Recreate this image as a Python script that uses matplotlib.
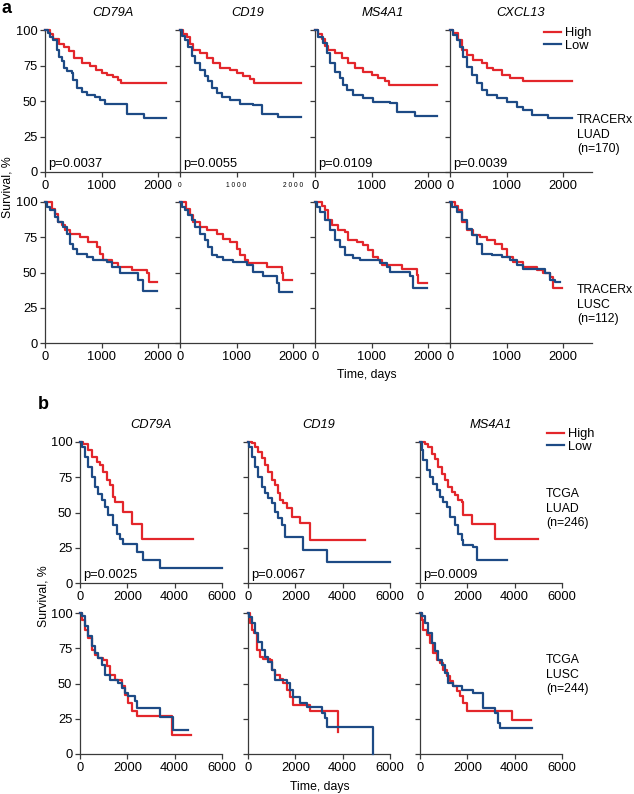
import matplotlib
matplotlib.use('Agg')
import matplotlib.pyplot as plt

plt.rcParams['font.family'] = ['Liberation Sans', 'DejaVu Sans']
plt.rcParams['font.size'] = 9

# ---------------- DATA ----------------
genes_a = ['CD79A', 'CD19', 'MS4A1', 'CXCL13']
genes_b = ['CD79A', 'CD19', 'MS4A1']
pvals_a = ['p=0.0037', 'p=0.0055', 'p=0.0109', 'p=0.0039']
pvals_b = ['p=0.0025', 'p=0.0067', 'p=0.0009']
ticks_a_x = [0, 1000, 2000]
ticks_a_x_spaced = ['0', '1 0 0 0', '2 0 0 0']
ticks_b_x = [0, 2000, 4000, 6000]
ticks_y = [0, 25, 50, 75, 100]
legend_labels = ['High', 'Low']
row_labels_a = ['TRACERx\nLUAD\n(n=170)', 'TRACERx\nLUSC\n(n=112)']
row_labels_b = ['TCGA\nLUAD\n(n=246)', 'TCGA\nLUSC\n(n=244)']

# TRACERx LUAD (panel a, top row)
a1_high_t = [0, 90, 150, 240, 330, 420, 520, 650, 800, 910, 1000, 1100, 1210, 1300, 1340, 2150]
a1_high_s = [100, 97, 94, 90, 88, 85, 80, 77, 75, 72, 70, 68, 67, 65, 62.5, 62.5]
a1_low_t = [0, 60, 90, 150, 210, 240, 300, 330, 390, 470, 500, 560, 650, 740, 890, 980, 1060, 1450, 1750, 2150]
a1_low_s = [100, 97.7, 95, 93, 86, 81, 78, 73, 71, 69.5, 65, 59, 56.5, 54, 52.5, 51, 48, 40.6, 37.8, 37.8]
a2_high_t = [0, 59, 118, 177, 236, 354, 472, 590, 708, 885, 1003, 1121, 1239, 1310, 2142]
a2_high_s = [100, 97, 95, 90, 86, 83.5, 80, 76.5, 73, 72, 69.5, 67.6, 65.7, 62.4, 62.4]
a2_low_t = [0, 29, 88, 147, 206, 265, 354, 442, 501, 560, 649, 737, 885, 1062, 1298, 1445, 1740, 2142]
a2_low_s = [100, 96, 93, 88, 82, 76.5, 72, 67.6, 64, 59, 55.6, 53, 51, 48, 47, 41, 38.5, 38.5]
a3_high_t = [0, 59, 118, 177, 236, 354, 472, 590, 708, 855, 1003, 1121, 1239, 1316, 2153]
a3_high_s = [100, 97, 94, 89, 86, 83.5, 80, 76.5, 73, 70.7, 68.3, 66, 64, 61.3, 61.3]
a3_low_t = [0, 59, 147, 206, 265, 354, 442, 501, 560, 678, 855, 1032, 1327, 1445, 1770, 2153]
a3_low_s = [100, 95.3, 90.6, 84, 76.5, 70.7, 66, 61.3, 57.7, 54, 51.9, 49.5, 48.4, 42.5, 39.4, 39.4]
a4_high_t = [0, 59, 147, 206, 295, 413, 560, 649, 767, 914, 1062, 1298, 2153]
a4_high_s = [100, 97.7, 93, 86, 82.6, 79, 76.5, 73, 71.8, 68.3, 66, 64.3, 64.3]
a4_low_t = [0, 59, 118, 177, 236, 295, 383, 472, 560, 649, 826, 1003, 1180, 1298, 1445, 1740, 2153]
a4_low_s = [100, 96.5, 93, 88.3, 81.2, 74, 68, 62.4, 57.7, 54.2, 51.9, 49.5, 46, 43.7, 40, 37.8, 37.8]

# TRACERx LUSC (panel a, bottom row)
a5_high_t = [0, 118, 177, 236, 295, 354, 442, 619, 767, 914, 973, 1032, 1180, 1298, 1534, 1799, 1841, 1988]
a5_high_s = [100, 95.3, 91.7, 85.8, 83.5, 80, 77.6, 75.2, 71.7, 68.2, 63.4, 59.2, 56.4, 54, 51.7, 49.3, 43.4, 43.4]
a5_low_t = [0, 29, 88, 177, 236, 324, 383, 442, 501, 560, 737, 855, 1091, 1180, 1327, 1652, 1740, 1988]
a5_low_s = [100, 96.5, 94.1, 89.4, 85.8, 82.3, 77.6, 70.5, 67, 63.4, 61.1, 59.2, 57.5, 54, 49.3, 44.6, 36.8, 36.8]
a6_high_t = [0, 100, 177, 236, 354, 472, 649, 767, 885, 1003, 1062, 1150, 1209, 1534, 1799, 1829, 1976]
a6_high_s = [100, 95.3, 90.6, 85.8, 82.3, 80, 77.6, 74, 71.7, 67, 62.3, 58.7, 56.4, 54, 49.3, 44.6, 44.6]
a6_low_t = [0, 29, 88, 147, 206, 265, 354, 442, 501, 560, 649, 767, 944, 1180, 1298, 1475, 1711, 1758, 1976]
a6_low_s = [100, 96.5, 94.1, 90.6, 87, 82.3, 77.6, 72.9, 68.2, 62.3, 61.1, 59.2, 57.5, 55.2, 50.5, 47.4, 42.2, 36.3, 36.3]
a7_high_t = [0, 118, 177, 236, 295, 413, 531, 590, 737, 855, 944, 1032, 1121, 1180, 1534, 1799, 1829, 1976]
a7_high_s = [100, 97, 94.1, 87, 83.5, 80, 78.8, 72.9, 71.7, 69.3, 65.8, 61.1, 58.7, 55.2, 52.8, 48.1, 42.7, 42.7]
a7_low_t = [0, 29, 88, 177, 265, 354, 442, 531, 678, 796, 1150, 1268, 1327, 1681, 1740, 1976]
a7_low_s = [100, 96.5, 92.9, 87, 80, 72.9, 68.2, 62.3, 60.6, 58.7, 56.4, 54, 50.5, 47.4, 38.7, 38.7]
a8_high_t = [0, 88, 147, 206, 295, 413, 531, 649, 796, 914, 1003, 1121, 1298, 1534, 1652, 1770, 1829, 1976]
a8_high_s = [100, 97, 94.1, 85.8, 80, 76.4, 75.2, 72.9, 70.5, 67, 61.1, 57.5, 54, 51.7, 49.3, 47, 38.7, 38.7]
a8_low_t = [0, 29, 118, 206, 295, 383, 472, 560, 737, 914, 1062, 1180, 1298, 1681, 1770, 1858, 1947]
a8_low_s = [100, 96.5, 92.9, 87, 81.1, 76.4, 70.5, 63.4, 62.3, 61.1, 58.7, 55.2, 52.8, 49.3, 44.6, 43.4, 43.4]

# TCGA LUAD (panel b, top row)
b1_high_t = [0, 141, 352, 493, 704, 845, 986, 1127, 1268, 1408, 1479, 1831, 2183, 2606, 4761]
b1_high_s = [100, 98.8, 94.1, 89.4, 85.8, 83.5, 78.7, 72.8, 69.3, 61, 57.4, 50.4, 42.1, 31.4, 31.4]
b1_low_t = [0, 70, 211, 352, 493, 634, 775, 915, 1056, 1197, 1408, 1549, 1690, 1831, 2394, 2676, 3380, 6000]
b1_low_s = [100, 96.5, 89.4, 82.3, 75.2, 68.1, 63.4, 58.6, 53.9, 48, 40.9, 35, 31.4, 27.9, 22, 16.1, 10.6, 10.6]
b2_high_t = [0, 155, 296, 437, 577, 718, 859, 1000, 1141, 1282, 1352, 1493, 1634, 1845, 2197, 2620, 4944]
b2_high_s = [100, 99, 96.7, 93.1, 88.4, 83.7, 79, 73, 69.5, 63.6, 58.9, 56.5, 53, 47, 42.8, 30.5, 30.5]
b2_low_t = [0, 56, 155, 296, 437, 577, 718, 859, 1000, 1141, 1282, 1423, 1563, 2338, 3352, 6000]
b2_low_s = [100, 96.7, 89.6, 82.5, 75.4, 68.3, 63.6, 60, 56.5, 50.6, 45.9, 41.1, 32.9, 23.4, 15.1, 15.1]
b3_high_t = [0, 211, 352, 493, 634, 775, 915, 1056, 1197, 1338, 1479, 1620, 1761, 1831, 2183, 3169, 4972]
b3_high_s = [100, 98.8, 96.5, 91.7, 88.2, 82.3, 77.5, 72.8, 68.1, 64.5, 62.2, 58.6, 57.4, 48, 42.1, 31.4, 31.4]
b3_low_t = [0, 70, 141, 282, 423, 563, 704, 845, 986, 1127, 1268, 1479, 1620, 1761, 1831, 2254, 2394, 3662]
b3_low_s = [100, 94.1, 87, 79.9, 75.2, 70.4, 65.7, 61, 57.4, 53.9, 46.8, 40.9, 35, 30.3, 26.7, 25.5, 16.1, 16.1]

# TCGA LUSC (panel b, bottom row)
b4_high_t = [0, 70, 211, 352, 493, 634, 775, 986, 1127, 1268, 1479, 1761, 1901, 2042, 2183, 2394, 3873, 4676]
b4_high_s = [100, 95.3, 88.2, 82.3, 74, 70.4, 68.1, 66.9, 62.2, 56.3, 52.7, 48, 42.1, 36.2, 30.3, 26.7, 13.2, 13.2]
b4_low_t = [0, 70, 211, 352, 493, 634, 775, 915, 1056, 1268, 1620, 1761, 1901, 2042, 2324, 2394, 3380, 3944, 4577]
b4_low_s = [100, 97.6, 90.5, 83.5, 76.4, 71.6, 68.1, 63.4, 56.3, 52.7, 50.4, 46.8, 43.3, 40.9, 37.4, 32.6, 26.2, 17.3, 17.3]
b5_high_t = [0, 85, 155, 254, 366, 507, 648, 930, 1000, 1141, 1352, 1493, 1634, 1775, 1915, 2620, 3817]
b5_high_s = [100, 92.7, 87.9, 85.6, 73.8, 69, 67.1, 66.7, 59.6, 56, 53, 50.1, 45.4, 40.7, 34.8, 30.7, 15.8]
b5_low_t = [0, 56, 155, 296, 437, 577, 718, 859, 1000, 1141, 1634, 1775, 1915, 2197, 2479, 3113, 3254, 3352, 5268]
b5_low_s = [100, 97.4, 92.7, 85.6, 79.7, 73.8, 69, 65.5, 59.6, 52.5, 50.1, 45.4, 40.7, 35.9, 33.6, 28.8, 25.3, 18.9, 0]
b6_high_t = [0, 70, 141, 282, 423, 563, 704, 845, 986, 1127, 1268, 1408, 1549, 1690, 1831, 1972, 3873, 4676]
b6_high_s = [100, 95.3, 88.2, 84.6, 78.7, 71.6, 66.9, 64.5, 59.8, 55.1, 51.5, 48, 44.4, 40.9, 36.2, 30.3, 24.3, 24.3]
b6_low_t = [0, 70, 211, 352, 493, 634, 775, 915, 1056, 1197, 1408, 1761, 2254, 2676, 3169, 3310, 3380, 4746]
b6_low_s = [100, 97.6, 92.9, 85.8, 78.7, 72.8, 66.9, 63.4, 57.4, 50.4, 48, 45.6, 43.3, 32.6, 29.1, 22, 18.4, 18.4]

curves_a_top = [(a1_high_t, a1_high_s, a1_low_t, a1_low_s), (a2_high_t, a2_high_s, a2_low_t, a2_low_s),
                (a3_high_t, a3_high_s, a3_low_t, a3_low_s), (a4_high_t, a4_high_s, a4_low_t, a4_low_s)]
curves_a_bot = [(a5_high_t, a5_high_s, a5_low_t, a5_low_s), (a6_high_t, a6_high_s, a6_low_t, a6_low_s),
                (a7_high_t, a7_high_s, a7_low_t, a7_low_s), (a8_high_t, a8_high_s, a8_low_t, a8_low_s)]
curves_b_top = [(b1_high_t, b1_high_s, b1_low_t, b1_low_s), (b2_high_t, b2_high_s, b2_low_t, b2_low_s),
                (b3_high_t, b3_high_s, b3_low_t, b3_low_s)]
curves_b_bot = [(b4_high_t, b4_high_s, b4_low_t, b4_low_s), (b5_high_t, b5_high_s, b5_low_t, b5_low_s),
                (b6_high_t, b6_high_s, b6_low_t, b6_low_s)]

# ---------------- STYLE / LAYOUT ----------------
RED = '#e3262b'
BLUE = '#1d4a85'
SPINE = '#3a3a3a'
W, H = 634, 794
FS = 9.3      # tick labels, titles, p-values
FS2 = 8.8     # axis labels, legend, row labels

fig = plt.figure(figsize=(W / 100, H / 100), dpi=100)


def ax_at(x0, y_top, w, h):
    return fig.add_axes([x0 / W, 1 - (y_top + h) / H, w / W, h / H])


def style(ax, xmax, xticks, show_ylabels):
    ax.set_xlim(0, xmax)
    ax.set_ylim(0, 100)
    for sp in ['top', 'right']:
        ax.spines[sp].set_visible(False)
    for sp in ['left', 'bottom']:
        ax.spines[sp].set_linewidth(0.9)
        ax.spines[sp].set_color(SPINE)
    ax.set_xticks(xticks)
    ax.set_yticks(ticks_y)
    ax.tick_params(direction='out', length=3.5, width=0.9, color=SPINE, pad=2, labelsize=FS)
    if not show_ylabels:
        ax.set_yticklabels([])
    ax.patch.set_alpha(0)


def draw(ax, c):
    ht, hs, lt, ls = c
    lh, = ax.step(ht, hs, where='post', color=RED, lw=1.6, clip_on=False, zorder=3)
    ll, = ax.step(lt, ls, where='post', color=BLUE, lw=1.6, clip_on=False, zorder=3)
    return lh, ll


# Panel a
a_x0 = [45, 180, 315, 450]
a_w = [135, 135, 135, 142]
handles = None
for i in range(4):
    xmax = a_w[i] / 56.5 * 1000
    ax = ax_at(a_x0[i], 30, a_w[i], 142)
    style(ax, xmax, ticks_a_x, i == 0)
    if i == 1:
        ax.set_xticklabels(ticks_a_x_spaced, fontsize=4.8)
        ax.tick_params(axis='x', pad=4)
    h = draw(ax, curves_a_top[i])
    if i == 3:
        handles = h
    ax.set_title(genes_a[i], style='italic', fontsize=FS, pad=10)
    ax.text(0.025, 0.015, pvals_a[i], transform=ax.transAxes, ha='left', va='bottom', fontsize=FS)

    ax2 = ax_at(a_x0[i], 202, a_w[i], 141)
    style(ax2, xmax, ticks_a_x, i == 0)
    draw(ax2, curves_a_bot[i])

fig.legend(handles, legend_labels, loc='upper left', bbox_to_anchor=(544 / W, 1 - 27 / H),
           bbox_transform=fig.transFigure, frameon=False, handlelength=1.3, handletextpad=0.35,
           labelspacing=0.05, borderpad=0, borderaxespad=0, fontsize=FS)
fig.text(577 / W, 1 - 114 / H, row_labels_a[0], ha='left', va='top', fontsize=FS2, linespacing=1.3)
fig.text(577 / W, 1 - 284 / H, row_labels_a[1], ha='left', va='top', fontsize=FS2, linespacing=1.3)
fig.text(8 / W, 1 - 187 / H, 'Survival, %', rotation=90, ha='center', va='center', fontsize=FS2)
fig.text(367 / W, 1 - 375 / H, 'Time, days', ha='center', va='center', fontsize=FS2)
fig.text(2 / W, 1 - 0 / H, 'a', ha='left', va='top', fontsize=13, fontweight='bold')

# Panel b
b_x0 = [80, 248, 420]
for i in range(3):
    ax = ax_at(b_x0[i], 442, 142, 141)
    style(ax, 6000, ticks_b_x, i == 0)
    h = draw(ax, curves_b_top[i])
    if i == 2:
        handles = h
    ax.set_title(genes_b[i], style='italic', fontsize=FS, pad=10)
    ax.text(0.025, 0.015, pvals_b[i], transform=ax.transAxes, ha='left', va='bottom', fontsize=FS)

    ax2 = ax_at(b_x0[i], 613, 142, 141)
    style(ax2, 6000, ticks_b_x, i == 0)
    draw(ax2, curves_b_bot[i])

fig.legend(handles, legend_labels, loc='upper left', bbox_to_anchor=(547 / W, 1 - 428 / H),
           bbox_transform=fig.transFigure, frameon=False, handlelength=1.3, handletextpad=0.35,
           labelspacing=0.05, borderpad=0, borderaxespad=0, fontsize=FS)
fig.text(546 / W, 1 - 488 / H, row_labels_b[0], ha='left', va='top', fontsize=FS2, linespacing=1.3)
fig.text(546 / W, 1 - 654 / H, row_labels_b[1], ha='left', va='top', fontsize=FS2, linespacing=1.3)
fig.text(44 / W, 1 - 596 / H, 'Survival, %', rotation=90, ha='center', va='center', fontsize=FS2)
fig.text(320 / W, 1 - 787 / H, 'Time, days', ha='center', va='center', fontsize=FS2)
fig.text(38 / W, 1 - 396 / H, 'b', ha='left', va='top', fontsize=13, fontweight='bold')

fig.savefig('out.png', dpi=100)
